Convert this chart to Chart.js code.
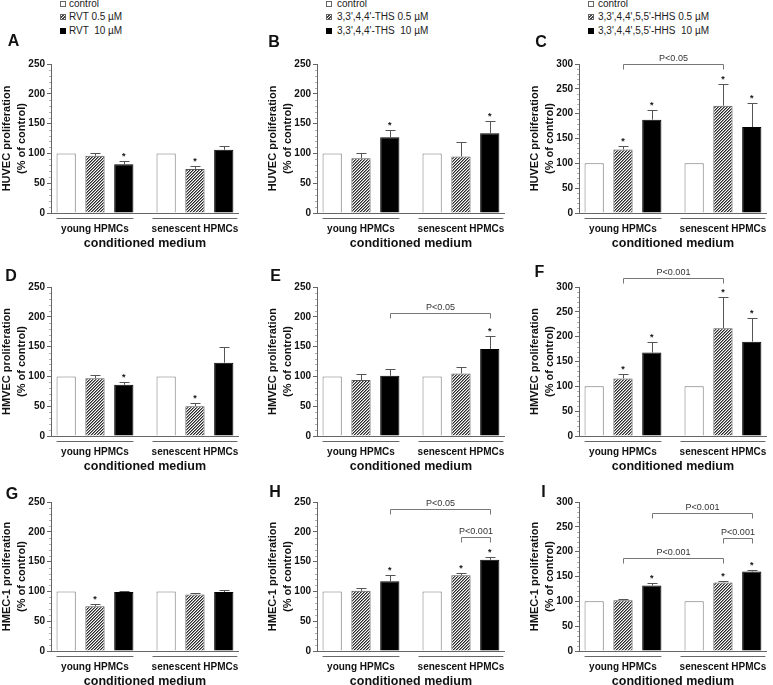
<!DOCTYPE html>
<html><head><meta charset="utf-8">
<script src="https://cdn.jsdelivr.net/npm/chart.js@4"></script>
<style>
html,body{margin:0;padding:0;background:#fff;width:773px;height:685px;overflow:hidden;position:relative;font-family:"Liberation Sans",Arial,sans-serif;}
.lg{position:absolute;font-size:10px;color:#222;line-height:12px;white-space:pre;}
.bx{position:absolute;width:4px;height:4px;border:1px solid #666;}
.h{background:repeating-linear-gradient(135deg,#fff 0 1px,#444 1px 2.2px);}
.k{background:#000;border-color:#000;}
.w{background:#fff;}
</style></head><body>
<script>
// ---------- DATA ----------
const categories = ['young HPMCs', 'senescent HPMCs'];
const seriesLabels = ['control', '0.5 µM', '10 µM'];
const legendCol1 = ['control', 'RVT 0.5 µM', 'RVT  10 µM'];
const legendCol2 = ['control', "3,3',4,4'-THS 0.5 µM", "3,3',4,4'-THS  10 µM"];
const legendCol3 = ['control', "3,3',4,4',5,5'-HHS 0.5 µM", "3,3',4,4',5,5'-HHS  10 µM"];
const rowTitles = ['HUVEC proliferation', 'HMVEC proliferation', 'HMEC-1 proliferation'];
const yTitle2 = '(% of control)';
const xTitle = 'conditioned medium';

// order in each array: young control, young 0.5, young 10, senescent control, senescent 0.5, senescent 10
const A_mean = [100, 96, 82, 100, 74, 106];
const A_err  = [0, 5, 6, 0, 5, 7];
const A_star = [0, 0, 1, 0, 1, 0];
const B_mean = [100, 92, 127, 100, 95, 134];
const B_err  = [0, 8, 12, 0, 24, 21];
const B_star = [0, 0, 1, 0, 0, 1];
const C_mean = [100, 128, 188, 100, 216, 173];
const C_err  = [0, 7, 20, 0, 44, 48];
const C_star = [0, 1, 1, 0, 1, 1];
const C_sig  = [[1, 4, 300, 'P<0.05']];
const D_mean = [100, 97, 86, 100, 50, 123];
const D_err  = [0, 5, 4, 0, 5, 26];
const D_star = [0, 0, 1, 0, 1, 0];
const E_mean = [100, 94, 101, 100, 105, 146];
const E_err  = [0, 10, 11, 0, 10, 21];
const E_star = [0, 0, 0, 0, 0, 1];
const E_sig  = [[2, 5, 206, 'P<0.05']];
const F_mean = [100, 116, 168, 100, 217, 190];
const F_err  = [0, 8, 21, 0, 63, 47];
const F_star = [0, 1, 1, 0, 1, 1];
const F_sig  = [[1, 4, 318, 'P<0.001']];
const G_mean = [100, 75, 99, 100, 95, 99];
const G_err  = [0, 4, 2, 0, 3, 3];
const G_star = [0, 1, 0, 0, 0, 0];
const H_mean = [100, 101, 117, 100, 127, 153];
const H_err  = [0, 5, 10, 0, 4, 5];
const H_star = [0, 0, 1, 0, 1, 1];
const H_sig  = [[2, 5, 239, 'P<0.05'], [4, 5, 192, 'P<0.001']];
const I_mean = [100, 102, 132, 100, 138, 160];
const I_err  = [0, 2, 5, 0, 2, 3];
const I_star = [0, 0, 1, 0, 1, 1];
const I_sig  = [[2, 5, 278, 'P<0.001'], [4, 5, 227, 'P<0.001'], [1, 4, 187, 'P<0.001']];
const yMaxA = 250, yMaxC = 300;

// ---------- LAYOUT ----------
const FF = '"Liberation Sans", Arial, sans-serif';
const colX = [51, 317, 579];
const rowTop = [64, 287, 502];
const PH = 149, PADTOP = 42, YW = 52, AXW = 195, PADR = 3, XH = 40, PADB = 2;
const panels = [
  {id:'A', mean:A_mean, err:A_err, star:A_star, sig:[],    ymax:yMaxA, col:0, row:0, ldx:-37.5, ldy:-22},
  {id:'B', mean:B_mean, err:B_err, star:B_star, sig:[],    ymax:yMaxA, col:1, row:0, ldx:-43,   ldy:-21.5},
  {id:'C', mean:C_mean, err:C_err, star:C_star, sig:C_sig, ymax:yMaxC, col:2, row:0, ldx:-38,   ldy:-21},
  {id:'D', mean:D_mean, err:D_err, star:D_star, sig:[],    ymax:yMaxA, col:0, row:1, ldx:-40,   ldy:-10},
  {id:'E', mean:E_mean, err:E_err, star:E_star, sig:E_sig, ymax:yMaxA, col:1, row:1, ldx:-41.5, ldy:-10.5},
  {id:'F', mean:F_mean, err:F_err, star:F_star, sig:F_sig, ymax:yMaxC, col:2, row:1, ldx:-39.5, ldy:-14},
  {id:'G', mean:G_mean, err:G_err, star:G_star, sig:[],    ymax:yMaxA, col:0, row:2, ldx:-39,   ldy:-7},
  {id:'H', mean:H_mean, err:H_err, star:H_star, sig:H_sig, ymax:yMaxA, col:1, row:2, ldx:-42,   ldy:-9},
  {id:'I', mean:I_mean, err:I_err, star:I_star, sig:I_sig, ymax:yMaxC, col:2, row:2, ldx:-35.5, ldy:-9}
];

// legends (HTML)
const legendCols = [legendCol1, legendCol2, legendCol3];
const legBox = [60, 326, 588], legText = [69, 337, 598], legY = [4, 16.5, 30.5];
const boxCls = ['w', 'h', 'k'];
legendCols.forEach((arr, c) => {
  arr.forEach((t, r) => {
    const b = document.createElement('div');
    b.className = 'bx ' + boxCls[r];
    b.style.left = legBox[c] + 'px'; b.style.top = (legY[r] - 3) + 'px';
    document.body.appendChild(b);
    const s = document.createElement('div');
    s.className = 'lg'; s.textContent = t;
    s.style.left = legText[c] + 'px'; s.style.top = (legY[r] - 6) + 'px';
    document.body.appendChild(s);
  });
});

function makeHatch() {
  const c = document.createElement('canvas'); c.width = 3; c.height = 3;
  const g = c.getContext('2d');
  g.fillStyle = '#fff'; g.fillRect(0, 0, 3, 3);
  g.fillStyle = '#2a2a2a';
  g.fillRect(0, 2, 1, 1); g.fillRect(1, 1, 1, 1); g.fillRect(2, 0, 1, 1);
  g.fillStyle = '#8a8a8a';
  g.fillRect(1, 2, 1, 1); g.fillRect(2, 1, 1, 1); g.fillRect(0, 0, 1, 1);
  return c;
}
const hatchCanvas = makeHatch();

const extras = {
  id: 'extras',
  afterDraw(chart) {
    const p = chart.$panel; if (!p) return;
    const ctx = chart.ctx, ys = chart.scales.y, ca = chart.chartArea;
    const bars = [];
    for (let g = 0; g < 2; g++) for (let k = 0; k < 3; k++) bars.push(chart.getDatasetMeta(k).data[g]);
    ctx.save();
    // minor ticks
    ctx.strokeStyle = '#b0b0b0'; ctx.lineWidth = 1;
    ctx.beginPath();
    for (let v = 10; v < p.ymax; v += 10) {
      if (v % 50 === 0) continue;
      const y = Math.round(ys.getPixelForValue(v)) + 0.5;
      ctx.moveTo(ca.left - 2, y); ctx.lineTo(ca.left, y);
    }
    ctx.stroke();
    // group underlines
    ctx.strokeStyle = '#666';
    const uy = Math.round(ca.bottom + 5) + 0.5;
    ctx.beginPath();
    ctx.moveTo(bars[0].x - bars[0].width / 2, uy); ctx.lineTo(bars[2].x + bars[2].width / 2, uy);
    ctx.moveTo(bars[3].x - bars[3].width / 2 - 4, uy); ctx.lineTo(bars[5].x + bars[5].width / 2 + 4, uy);
    ctx.stroke();
    // error bars + stars
    bars.forEach((b, i) => {
      if (!p.err[i]) return;
      const yt = Math.round(ys.getPixelForValue(p.mean[i] + p.err[i])) + 0.5;
      const x = Math.round(b.x) + 0.5;
      ctx.strokeStyle = '#555'; ctx.lineWidth = 1;
      ctx.beginPath();
      ctx.moveTo(x, b.y); ctx.lineTo(x, yt);
      ctx.moveTo(x - 5, yt); ctx.lineTo(x + 5, yt);
      ctx.stroke();
      if (p.star[i]) {
        ctx.fillStyle = '#111'; ctx.font = 'bold 9px ' + FF;
        ctx.textAlign = 'center'; ctx.textBaseline = 'alphabetic';
        ctx.fillText('*', b.x, yt - 3);
      }
    });
    // significance brackets
    p.sig.forEach(s => {
      const x1 = Math.round(bars[s[0]].x) + 0.5, x2 = Math.round(bars[s[1]].x) + 0.5;
      const y = Math.round(ys.getPixelForValue(s[2])) + 0.5;
      ctx.strokeStyle = '#777'; ctx.lineWidth = 1;
      ctx.beginPath();
      ctx.moveTo(x1, y + 5); ctx.lineTo(x1, y); ctx.lineTo(x2, y); ctx.lineTo(x2, y + 5);
      ctx.stroke();
      ctx.fillStyle = '#333'; ctx.font = '9px ' + FF;
      ctx.textAlign = 'center'; ctx.textBaseline = 'middle';
      ctx.fillText(s[3], (x1 + x2) / 2, y - 6);
    });
    // panel letter
    ctx.fillStyle = '#111'; ctx.font = 'bold 16px ' + FF;
    ctx.textAlign = 'center'; ctx.textBaseline = 'middle';
    ctx.fillText(p.id, ca.left + p.ldx, ca.top + p.ldy);
    ctx.restore();
  }
};

panels.forEach(p => {
  const x0 = colX[p.col], top = rowTop[p.row];
  const W = YW + AXW + PADR, H = PADTOP + PH + XH + PADB;
  const div = document.createElement('div');
  div.style.cssText = `position:absolute;left:${x0 - YW}px;top:${top - PADTOP}px;width:${W}px;height:${H}px;`;
  const cv = document.createElement('canvas');
  cv.width = W; cv.height = H; cv.style.width = W + 'px'; cv.style.height = H + 'px';
  div.appendChild(cv); document.body.appendChild(div);
  const hatch = cv.getContext('2d').createPattern(hatchCanvas, 'repeat');
  const datasets = [0, 1, 2].map(k => ({
    label: seriesLabels[k],
    data: categories.map((c, g) => ({x: g, y: p.mean[g * 3 + k]})),
    backgroundColor: k === 0 ? '#fff' : (k === 1 ? hatch : '#000'),
    borderColor: k === 0 ? '#777' : (k === 1 ? '#555' : '#000'),
    borderWidth: 1,
    categoryPercentage: 0.865,
    barPercentage: 0.667
  }));
  const chart = new Chart(cv, {
    type: 'bar',
    data: {datasets},
    options: {
      responsive: false, animation: false, devicePixelRatio: 1,
      layout: {padding: {top: PADTOP, right: PADR, bottom: PADB, left: 0}},
      plugins: {legend: {display: false}, tooltip: {enabled: false}},
      scales: {
        x: {
          type: 'linear', min: -0.44, max: 1.44, offset: false, bounds: 'data',
          grid: {display: false, drawTicks: false},
          border: {display: true, color: '#666', width: 1},
          afterBuildTicks: s => { s.ticks = categories.map((c, i) => ({value: i})); },
          afterFit: s => { s.height = XH; },
          ticks: {autoSkip: false, maxRotation: 0, padding: 10, color: '#111',
                  font: {family: FF, size: 10, weight: 'bold'},
                  callback: v => (categories[v] !== undefined ? categories[v] : '')},
          title: {display: true, text: xTitle, color: '#111',
                  font: {family: FF, size: 12.5, weight: 'bold'}, padding: {top: 0, bottom: 2}}
        },
        y: {
          min: 0, max: p.ymax,
          afterFit: s => { s.width = YW; },
          ticks: {stepSize: 50, padding: 2, color: '#111', font: {family: FF, size: 10, weight: 'bold'}},
          grid: {drawOnChartArea: false, drawTicks: true, tickLength: 4, color: '#666'},
          border: {display: true, color: '#666'},
          title: {display: true, text: [rowTitles[p.row], yTitle2], color: '#111',
                  font: {family: FF, size: 11, weight: 'bold', lineHeight: '15px'}, padding: 0}
        }
      }
    },
    plugins: [extras]
  });
  chart.$panel = p;
  chart.draw();
});
</script>
</body></html>
